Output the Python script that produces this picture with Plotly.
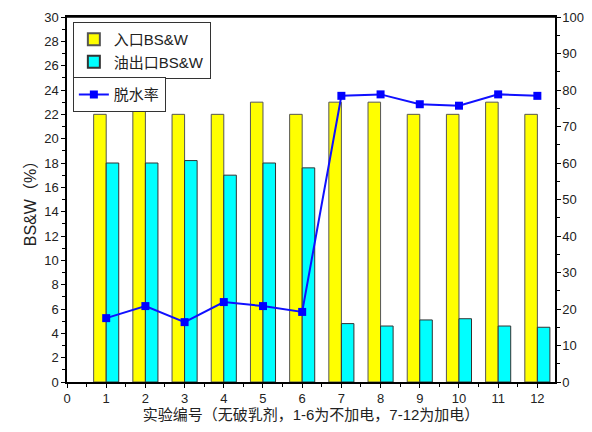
import plotly.graph_objects as go

runs = [1, 2, 3, 4, 5, 6, 7, 8, 9, 10, 11, 12]
inlet_bsw = [22, 23, 22, 22, 23, 22, 23, 23, 22, 22, 23, 22]
outlet_bsw = [18, 18, 18.2, 17, 18, 17.6, 4.8, 4.6, 5.1, 5.2, 4.6, 4.5]
dehydration = [17.5, 20.8, 16.4, 21.9, 20.8, 19.2, 78.4, 78.8, 76.1, 75.7, 78.8, 78.4]

FONT = "Liberation Sans, Arial, Noto Sans CJK SC"

fig = go.Figure()
fig.add_trace(go.Bar(x=runs, y=inlet_bsw, name="入口BS&W",
                     marker=dict(color="#ffff00", line=dict(color="#555555", width=1)),
                     legend="legend"))
fig.add_trace(go.Bar(x=runs, y=outlet_bsw, name="油出口BS&W",
                     marker=dict(color="#00ffff", line=dict(color="#333333", width=1)),
                     legend="legend"))
fig.add_trace(go.Scatter(x=runs, y=dehydration, name="脱水率", yaxis="y2",
                         mode="lines+markers",
                         line=dict(color="#1010ff", width=2),
                         marker=dict(symbol="square", size=8, color="#0000ff"),
                         legend="legend2"))

axis_common = dict(showline=True, linecolor="black", linewidth=1.5,
                   ticks="outside", tickcolor="black", ticklen=4,
                   showgrid=False, zeroline=False, automargin=False,
                   tickfont=dict(family=FONT, size=13, color="#222"))

fig.update_layout(
    width=576, height=416,
    margin=dict(l=59, r=29, t=9, b=42),
    paper_bgcolor="white", plot_bgcolor="white",
    barmode="group", bargap=0.36, bargroupgap=0,
    font=dict(family=FONT, size=13, color="#222"),
    xaxis=dict(range=[0, 12.45], tickmode="linear", tick0=0, dtick=1,
               mirror=True,
               minor=dict(ticks="outside", dtick=0.5, ticklen=3, tickcolor="black"),
               title=dict(text="实验编号（无破乳剂，1-6为不加电，7-12为加电）",
                          font=dict(family=FONT, size=15), standoff=0),
               **axis_common),
    yaxis=dict(range=[0, 30], tickmode="linear", tick0=0, dtick=2,
               mirror=False,
               minor=dict(ticks="outside", dtick=1, ticklen=3, tickcolor="black"),
               title=dict(text="BS&W（%）", font=dict(family=FONT, size=16), standoff=4),
               **axis_common),
    yaxis2=dict(range=[0, 100], overlaying="y", side="right",
                tickmode="linear", tick0=0, dtick=10,
                ticklabelstandoff=-1,
                minor=dict(ticks="outside", dtick=5, ticklen=3, tickcolor="black"),
                **axis_common),
    legend=dict(x=0.012, y=0.986, xanchor="left", yanchor="top",
                bordercolor="#333", borderwidth=1, bgcolor="white",
                font=dict(family=FONT, size=15), tracegroupgap=0,
                itemsizing="constant"),
    legend2=dict(x=0.012, y=0.835, xanchor="left", yanchor="top",
                 bordercolor="#333", borderwidth=1, bgcolor="white",
                 font=dict(family=FONT, size=15)),
)
fig.add_shape(type="line", xref="paper", yref="paper", x0=0, x1=1, y0=1, y1=1,
              line=dict(color="black", width=1.5))

fig.write_html("out.html")
